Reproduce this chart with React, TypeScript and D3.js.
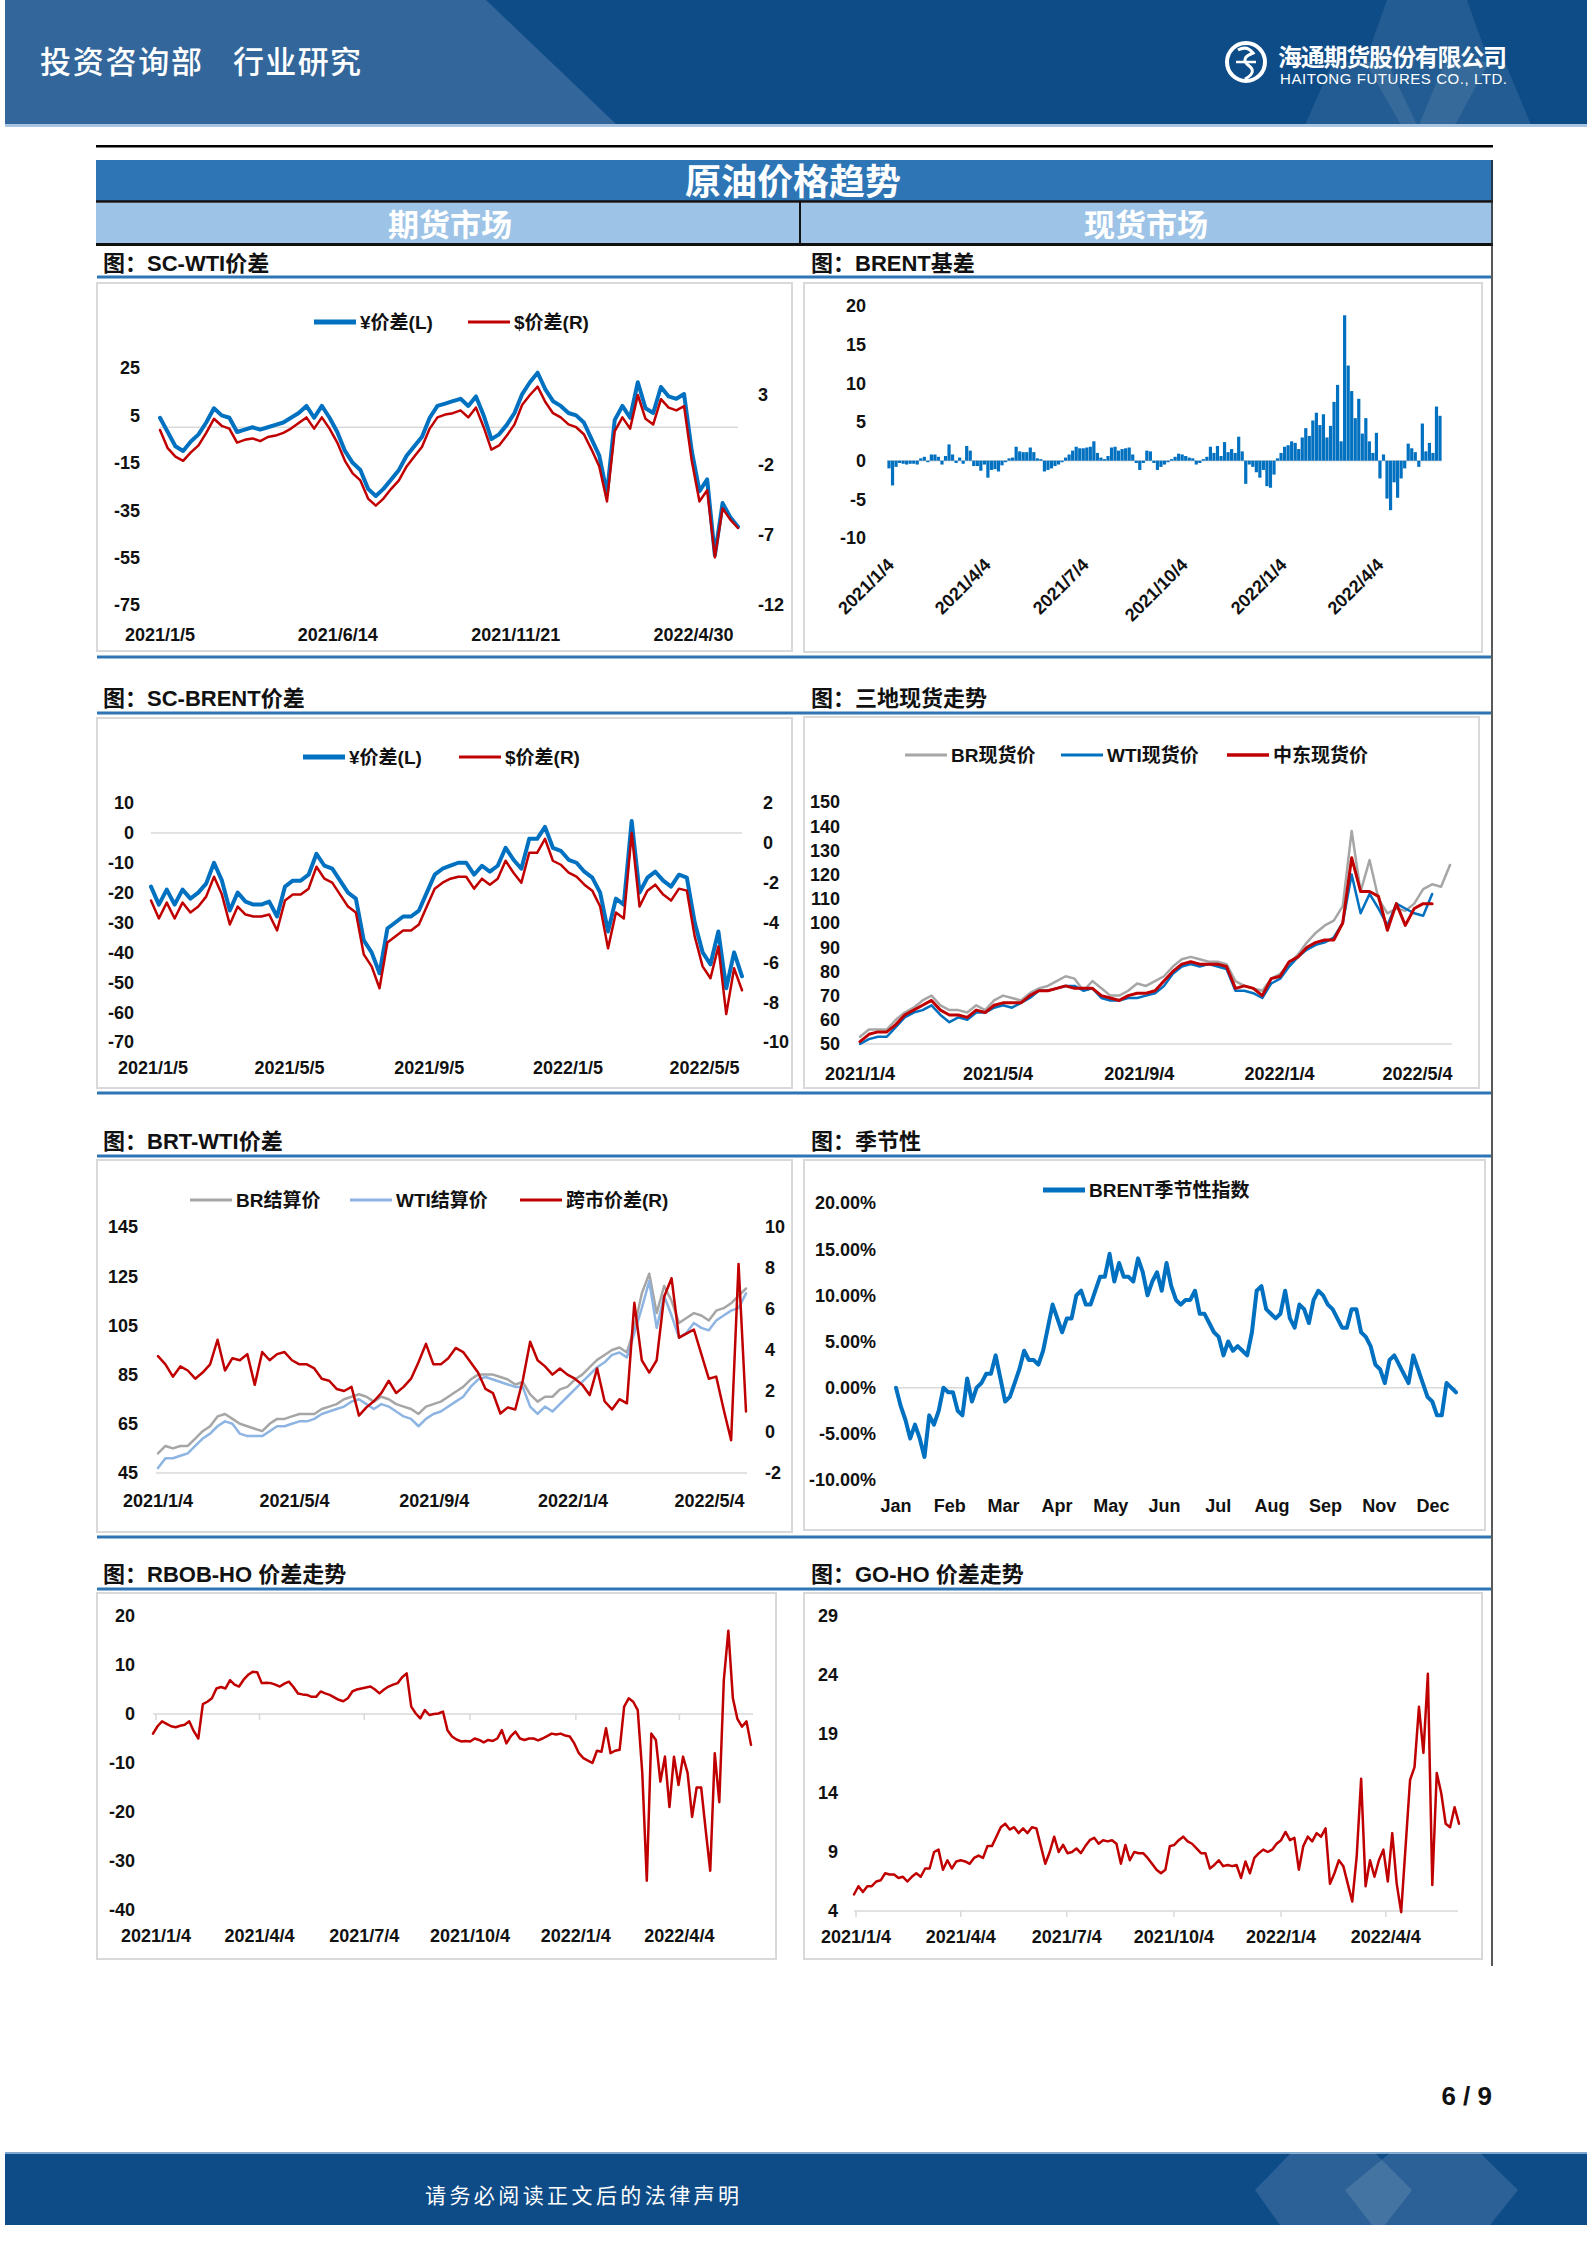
import React from 'react';
import * as d3 from 'd3';

// ---- SC-WTI价差 (weekly samples) ----
const SCWTI_DATES = ['2021/1/5', '2021/6/14', '2021/11/21', '2022/4/30'];
const SCWTI_LTICKS = [25, 5, -15, -35, -55, -75];
const SCWTI_RTICKS = [3, -2, -7, -12];
const SCWTI_CNY = [4, -2, -8, -10, -6, -3, 2, 8, 5, 4, -2, -1, 0, -1, 0, 1, 2, 4, 6, 9, 4, 9, 4, -2, -10, -15, -18, -26, -29, -26, -22, -18, -12, -8, -4, 4, 9, 10, 11, 12, 9, 13, 5, -5, -3, 1, 6, 14, 19, 23, 16, 11, 9, 6, 5, 2, -5, -12, -28, 3, 9, 4, 19, 8, 6, 17, 13, 12, 14, -10, -27, -22, -54, -32, -38, -42];
const SCWTI_USD = [0.5, -0.8, -1.4, -1.7, -1.1, -0.6, 0.3, 1.3, 0.8, 0.6, -0.4, -0.2, -0.1, -0.3, 0.0, 0.1, 0.3, 0.6, 1.0, 1.4, 0.6, 1.4, 0.6, -0.4, -1.7, -2.6, -3.1, -4.4, -4.9, -4.4, -3.7, -3.1, -2.1, -1.4, -0.7, 0.6, 1.4, 1.6, 1.7, 1.9, 1.4, 2.1, 0.7, -0.9, -0.6, 0.1, 0.9, 2.3, 3.0, 3.6, 2.5, 1.7, 1.4, 0.9, 0.7, 0.2, -0.9, -2.1, -4.6, 0.4, 1.4, 0.6, 3.0, 1.3, 0.9, 2.7, 2.1, 1.9, 2.2, -1.7, -4.6, -3.8, -8.6, -5.1, -5.9, -6.5];

// ---- BRENT基差 ----
const BRENT_DATES = ['2021/1/4', '2021/4/4', '2021/7/4', '2021/10/4', '2022/1/4', '2022/4/4'];
const BRENT_TICKS = [20, 15, 10, 5, 0, -5, -10];
const BRENT_BASIS = [-1.0, -3.2, -0.8, -0.3, -0.4, -0.5, -0.4, -0.4, -0.5, 0.3,
  0.5, -0.2, 0.8, 0.8, 0.5, -0.5, 0.6, 2.1, 0.8, -0.3,
  0.4, -0.4, 1.9, 1.3, -0.7, -0.7, -1.3, -0.5, -2.2, -1.2,
  -1.1, -1.4, -0.6, -0.2, 0.3, 0.4, 1.8, 1.2, 1.1, 1.1,
  1.7, 1.1, 0.3, 0.2, -1.4, -1.2, -1.0, -0.7, -0.5, -0.2,
  0.4, 0.8, 1.3, 1.8, 1.6, 1.6, 1.7, 1.8, 2.5, 1.0,
  0.4, 0.2, 0.6, 1.7, 1.8, 1.3, 1.5, 1.6, 1.7, 0.8,
  -0.3, -1.2, -0.3, 1.3, 1.2, -0.3, -1.2, -0.8, -0.5, -0.2,
  0.2, 0.5, 0.9, 0.8, 0.6, 0.4, 0.3, -0.5, -0.3, 0.2,
  0.5, 1.8, 1.0, 1.9, 0.6, 2.4, 1.1, 1.5, 1.0, 3.1,
  1.2, -3.0, -0.5, -0.8, -1.5, -2.2, -1.2, -3.3, -3.5, -1.8,
  0.3, 1.0, 1.8, 2.0, 2.5, 2.3, 1.5, 3.0, 4.2, 3.2,
  5.2, 6.2, 4.6, 6.0, 3.0, 4.5, 7.6, 9.8, 2.5, 18.8,
  12.3, 9.0, 5.5, 8.0, 3.5, 5.5, 2.5, 1.0, 3.6, -2.3,
  0.8, -4.9, -6.4, -2.8, -4.8, -2.3, -1.0, 2.2, 1.6, 1.1,
  -0.8, 4.8, 1.2, 2.3, 1.0, 7.0, 5.8];

// ---- SC-BRENT价差 ----
const SCBRENT_DATES = ['2021/1/5', '2021/5/5', '2021/9/5', '2022/1/5', '2022/5/5'];
const SCBRENT_LTICKS = [10, 0, -10, -20, -30, -40, -50, -60, -70];
const SCBRENT_RTICKS = [2, 0, -2, -4, -6, -8, -10];
const SCBRENT_CNY = [-18, -24, -19, -24, -19, -22, -20, -17, -10, -16, -26, -20, -23, -24, -24, -23, -28, -18, -16, -16, -14, -7, -11, -12, -16, -20, -22, -36, -40, -47, -32, -30, -28, -28, -26, -20, -14, -12, -11, -10, -10, -14, -11, -13, -11, -5, -9, -12, -2, -2, 2, -5, -6, -9, -10, -13, -15, -20, -33, -22, -24, 4, -20, -15, -13, -16, -18, -14, -15, -30, -40, -44, -33, -52, -40, -48];
const SCBRENT_USD = [-2.9, -3.8, -3.0, -3.8, -3.0, -3.5, -3.2, -2.7, -1.7, -2.6, -4.1, -3.2, -3.6, -3.7, -3.7, -3.6, -4.4, -2.9, -2.6, -2.6, -2.3, -1.2, -1.8, -2.0, -2.6, -3.2, -3.5, -5.6, -6.2, -7.3, -5.0, -4.7, -4.4, -4.4, -4.1, -3.2, -2.3, -2.0, -1.8, -1.7, -1.7, -2.3, -1.8, -2.1, -1.8, -0.9, -1.5, -2.0, -0.5, -0.5, 0.2, -0.9, -1.1, -1.5, -1.7, -2.1, -2.4, -3.2, -5.3, -3.5, -3.8, 0.5, -3.2, -2.4, -2.1, -2.6, -2.9, -2.3, -2.4, -4.7, -6.2, -6.8, -5.2, -8.6, -6.3, -7.4];

// ---- 三地现货走势 ----
const SPOT_DATES = ['2021/1/4', '2021/5/4', '2021/9/4', '2022/1/4', '2022/5/4'];
const SPOT_TICKS = [150, 140, 130, 120, 110, 100, 90, 80, 70, 60, 50];
const SPOT_BR = [53, 56, 56, 56, 60, 63, 65, 68, 70, 66, 64, 64, 63, 66, 64, 68, 70, 69, 68, 71, 73, 74, 76, 78, 77, 72, 76, 73, 70, 70, 72, 75, 74, 76, 78, 82, 85, 86, 85, 84, 84, 83, 76, 74, 73, 72, 77, 79, 83, 87, 92, 96, 99, 101, 107, 138, 113, 126, 110, 104, 106, 105, 108, 114, 116, 115, 124];
const SPOT_WTI = [50, 52, 53, 53, 57, 61, 63, 64, 66, 62, 59, 61, 60, 63, 63, 65, 66, 65, 67, 69, 72, 72, 73, 74, 74, 72, 73, 69, 68, 68, 69, 69, 70, 71, 74, 79, 82, 83, 82, 83, 82, 81, 72, 72, 71, 69, 75, 77, 82, 86, 89, 91, 92, 94, 100, 120, 104, 112, 106, 99, 108, 106, 104, 103, 112];
const SPOT_ME = [51, 54, 55, 55, 58, 62, 64, 66, 68, 64, 62, 62, 61, 64, 63, 66, 67, 67, 67, 70, 72, 72, 73, 74, 73, 73, 73, 70, 69, 68, 70, 71, 71, 72, 76, 80, 83, 84, 83, 83, 83, 82, 73, 74, 73, 70, 77, 78, 84, 86, 90, 92, 93, 93, 100, 127, 113, 113, 111, 97, 108, 99, 106, 108, 108];

// ---- BRT-WTI价差 ----
const BW_DATES = ['2021/1/4', '2021/5/4', '2021/9/4', '2022/1/4', '2022/5/4'];
const BW_LTICKS = [145, 125, 105, 85, 65, 45];
const BW_RTICKS = [10, 8, 6, 4, 2, 0, -2];
const SETTLE_BR = [53, 56, 55, 56, 56, 59, 62, 64, 68, 69, 67, 65, 64, 63, 62, 65, 67, 67, 68, 69, 69, 69, 71, 72, 73, 75, 76, 77, 76, 74, 76, 75, 73, 72, 71, 69, 72, 73, 74, 76, 78, 80, 83, 85, 85, 85, 84, 83, 81, 82, 77, 74, 76, 76, 79, 80, 83, 85, 88, 91, 93, 95, 96, 94, 104, 118, 126, 110, 121, 115, 106, 108, 110, 109, 107, 111, 112, 114, 117, 120];
const SETTLE_WTI = [47, 51, 51, 52, 53, 56, 59, 61, 64, 66, 65, 61, 60, 60, 60, 62, 64, 64, 65, 66, 66, 67, 69, 70, 71, 72, 74, 75, 73, 71, 73, 72, 70, 68, 67, 64, 67, 69, 70, 72, 74, 76, 80, 83, 84, 83, 82, 81, 80, 80, 72, 69, 72, 70, 73, 76, 79, 82, 85, 88, 90, 93, 94, 92, 102, 112, 123, 104, 117, 109, 100, 102, 106, 104, 103, 107, 109, 111, 112, 118];
const BW_SPREAD = [3.7, 3.3, 2.7, 3.2, 3.0, 2.6, 2.9, 3.3, 4.5, 3.0, 3.6, 3.5, 3.8, 2.3, 3.9, 3.5, 3.8, 3.9, 3.5, 3.3, 3.3, 3.1, 2.6, 2.5, 2.1, 2.0, 2.2, 0.8, 1.2, 1.5, 1.9, 2.5, 1.9, 2.2, 2.6, 3.4, 4.3, 3.3, 3.3, 3.6, 4.1, 3.9, 3.4, 2.9, 2.1, 1.9, 0.9, 1.2, 1.1, 2.5, 4.4, 3.5, 3.2, 2.8, 3.1, 2.8, 2.6, 2.3, 1.8, 3.1, 1.5, 1.1, 1.6, 1.4, 6.3, 3.5, 2.9, 3.5, 6.6, 7.5, 4.6, 4.8, 5.0, 3.8, 2.6, 2.7, 1.1, -0.4, 8.2, 1.0];

// ---- 季节性 ----
const MONTHS = ['Jan', 'Feb', 'Mar', 'Apr', 'May', 'Jun', 'Jul', 'Aug', 'Sep', 'Nov', 'Dec'];
const SEASON_TICKS = [20, 15, 10, 5, 0, -5, -10];
const SEASON_IDX = [0, -2, -3.5, -5.5, -4, -5.5, -7.5, -3, -4, -2.5, 0, -0.5, -0.5, -2.5, -3, 1, -1.5, 0, 0.5, 1.5, 1.5, 3.5, 1, -1.5, -1, 0.5, 2, 4, 3, 3, 2.5, 4, 6.5, 9, 7.5, 6, 7.5, 7.5, 10, 10.5, 9, 9, 10.5, 12, 12, 14.5, 11.5, 13.5, 12, 12, 11.5, 14, 12.5, 10, 11.5, 12.5, 10.5, 13.5, 11, 9.5, 9, 9.5, 9.5, 10.5, 8, 8, 7, 6, 5.5, 3.5, 5, 4, 4.5, 4, 3.5, 6, 10.5, 11, 8.5, 8, 7.5, 8, 10.5, 7.5, 6.5, 9, 8.5, 7, 9.5, 10.5, 10, 9, 8.5, 7.5, 6.5, 6.5, 8.5, 8.5, 6, 5.5, 4.5, 2.5, 2, 0.5, 3, 3.5, 2.5, 1.5, 0.5, 3.5, 2, 0.5, -1, -1.5, -3, -3, 0.5, 0, -0.5];

// ---- RBOB-HO / GO-HO ----
const CRACK_DATES = ['2021/1/4', '2021/4/4', '2021/7/4', '2021/10/4', '2022/1/4', '2022/4/4'];
const RBOB_TICKS = [20, 10, 0, -10, -20, -30, -40];
const RBOB_HO = [-4, -2.5, -1.5, -2, -2.5, -2.7, -2.4, -2.2, -1.5, -3.5,
  -5, 2, 2.5, 3.2, 5.2, 5.5, 5.2, 6.9, 6, 5.6,
  7, 8, 8.6, 8.5, 6.3, 6.4, 6.3, 6, 5.6, 6.2,
  6.6, 5.5, 4.2, 4, 3.9, 3.5, 3.5, 4.6, 4.2, 3.9,
  3.4, 2.9, 2.6, 3.2, 4.6, 5, 5.2, 5.4, 5.6, 5,
  4.2, 5, 5.6, 6, 6.3, 7.5, 8.3, 1.5, 0.1, -0.9,
  0.8, -0.2, 0, 0.1, 0.5, -3.3, -4.6, -5.2, -5.6, -5.5,
  -5.6, -5, -5.3, -5.8, -5.3, -5.5, -5, -3.3, -6, -4.5,
  -3.6, -5, -5.3, -5, -5, -5.4, -5, -4.5, -4, -4.2,
  -4, -4.4, -4.6, -6, -8, -9, -9.5, -10, -7.5, -7.7,
  -2.9, -8, -7.5, -7.3, 1.5, 3.2, 2.5, 0.8, -12, -34,
  -4, -5.3, -13.8, -8.7, -19, -8.7, -14.5, -8.7, -12, -21,
  -15, -15, -23.7, -32, -8, -18, 6.9, 17, 3.2, -1,
  -2.6, -1.5, -6.3];
const GOHO_TICKS = [29, 24, 19, 14, 9, 4];
const GO_HO = [5.4, 6.1, 5.6, 6.1, 6.1, 6.5, 6.6, 7.2, 7.1, 7.1,
  6.8, 6.9, 6.5, 6.9, 7.2, 6.9, 7.6, 7.6, 9, 9.2,
  7.5, 8.3, 7.6, 8.2, 8.3, 8.2, 8, 8.5, 8.7, 8.5,
  9.5, 9.5, 10.3, 11.1, 11.4, 10.9, 11.1, 10.6, 11, 10.6,
  11.1, 11, 9.5, 8, 9, 10.3, 9, 9.6, 8.9, 9,
  9.3, 8.9, 9.5, 10, 10.2, 9.7, 10, 9.9, 10, 9.7,
  8, 9.6, 8.3, 9, 8.9, 8.9, 8.5, 8, 7.5, 7.2,
  7.5, 9.5, 9.6, 10, 10.3, 9.9, 9.7, 9.3, 8.9, 8.9,
  7.6, 7.9, 8.3, 7.8, 7.9, 7.8, 7.9, 6.8, 8.2, 7.2,
  8.5, 8.9, 9.2, 9, 9.2, 9.7, 10, 10.7, 10, 10.2,
  7.5, 9.5, 10.3, 9.9, 10.6, 10.3, 11, 6.3, 7.2, 8.3,
  7.8, 6.3, 4.8, 8.6, 15.2, 6.1, 8.3, 6.9, 8.3, 9.2,
  6.5, 10.6, 6.3, 3.9, 9.5, 15.1, 16.2, 21.3, 17.4, 24.1,
  6.2, 15.7, 14, 11.4, 11.1, 12.8, 11.4];

const C = {
  blue: '#0070c0',
  red: '#c00000',
  gray: '#a6a6a6',
  lblue: '#8db4e2',
  border: '#d9d9d9',
  rule: '#2e75b6',
  axis: '#d9d9d9',
  text: '#111111',
};
const NUM = "'Liberation Sans', Arial, sans-serif";
const CJK = "'Noto Sans CJK SC', 'Liberation Sans', sans-serif";
const MIX = "'Liberation Sans', 'Noto Sans CJK SC', sans-serif";
const parse = d3.timeParse('%Y/%m/%d');
const day = (s: string) => parse(s) as Date;

type Lin = d3.ScaleLinear<number, number>;
const linePath = (vals: number[], x: Lin, y: Lin) =>
  d3.line<number>().x((_, i) => x(i)).y(d => y(d))(vals) || '';

const YLabels = ({ scale, ticks, x, anchor, fmt = (v: number) => String(v) }:
  { scale: Lin; ticks: number[]; x: number; anchor: 'start' | 'end'; fmt?: (v: number) => string }) => (
  <g fontFamily={NUM} fontSize={18} fontWeight="bold" fill={C.text} textAnchor={anchor}>
    {ticks.map(t => <text key={t} x={x} y={scale(t)} dy="0.36em">{fmt(t)}</text>)}
  </g>
);

const DateLabels = ({ scale, dates, y }: { scale: d3.ScaleTime<number, number>; dates: string[]; y: number }) => (
  <g fontFamily={NUM} fontSize={18} fontWeight="bold" fill={C.text} textAnchor="middle">
    {dates.map(d => <text key={d} x={scale(day(d))} y={y}>{d}</text>)}
  </g>
);

interface LegendItem { x: number; color: string; w: number; label: string }
const Legend = ({ items, y }: { items: LegendItem[]; y: number }) => (
  <g fontFamily={MIX} fontSize={19} fontWeight="bold" fill={C.text}>
    {items.map(it => (
      <g key={it.label}>
        <line x1={it.x} x2={it.x + 42} y1={y} y2={y} stroke={it.color} strokeWidth={it.w} />
        <text x={it.x + 46} y={y} dy="0.36em">{it.label}</text>
      </g>
    ))}
  </g>
);

const Line = ({ d, color, w }: { d: string; color: string; w: number }) => (
  <path d={d} fill="none" stroke={color} strokeWidth={w} strokeLinejoin="round" strokeLinecap="round" />
);

function ScWti() {
  const x = d3.scaleLinear().domain([0, SCWTI_CNY.length - 1]).range([160, 738]);
  const t = d3.scaleTime().domain([day('2021/1/5'), day('2022/6/9')]).range([160, 738]);
  const yl = d3.scaleLinear().domain([-75, 25]).range([605, 368]);
  const yr = d3.scaleLinear().domain([-12, 3]).range([605, 395]);
  return (
    <g>
      <line x1={160} x2={738} y1={yl(0)} y2={yl(0)} stroke={C.axis} strokeWidth={1.5} />
      <Line d={linePath(SCWTI_CNY, x, yl)} color={C.blue} w={4} />
      <Line d={linePath(SCWTI_USD, x, yr)} color={C.red} w={2.5} />
      <YLabels scale={yl} ticks={SCWTI_LTICKS} x={140} anchor="end" />
      <YLabels scale={yr} ticks={SCWTI_RTICKS} x={758} anchor="start" />
      <DateLabels scale={t} dates={SCWTI_DATES} y={641} />
      <Legend y={322} items={[
        { x: 314, color: C.blue, w: 5, label: '¥价差(L)' },
        { x: 468, color: C.red, w: 3, label: '$价差(R)' },
      ]} />
    </g>
  );
}

function BrentBasis() {
  const x = d3.scaleLinear().domain([0, BRENT_BASIS.length - 1]).range([889, 1440]);
  const t = d3.scaleTime().domain([day('2021/1/4'), day('2022/6/1')]).range([889, 1441]);
  const y = d3.scaleLinear().domain([-10, 20]).range([538, 306]);
  const y0 = y(0);
  return (
    <g>
      <line x1={887} x2={1442} y1={y0} y2={y0} stroke={C.axis} strokeWidth={1.5} />
      {BRENT_BASIS.map((v, i) => (
        <rect key={i} x={x(i) - 1.6} width={3.2} y={Math.min(y(v), y0)} height={Math.abs(y(v) - y0)} fill={C.blue} />
      ))}
      <YLabels scale={y} ticks={BRENT_TICKS} x={866} anchor="end" />
      <g fontFamily={NUM} fontSize={18} fontWeight="bold" fill={C.text} textAnchor="end">
        {BRENT_DATES.map(d => (
          <text key={d} transform={`translate(${t(day(d)) + 6},${566}) rotate(-45)`}>{d}</text>
        ))}
      </g>
    </g>
  );
}

function ScBrent() {
  const x = d3.scaleLinear().domain([0, SCBRENT_CNY.length - 1]).range([151, 742]);
  const t = d3.scaleTime().domain([day('2021/1/5'), day('2022/6/7')]).range([153, 742]);
  const yl = d3.scaleLinear().domain([-70, 10]).range([1042, 803]);
  const yr = d3.scaleLinear().domain([-10, 2]).range([1042, 803]);
  return (
    <g>
      <line x1={151} x2={742} y1={yl(0)} y2={yl(0)} stroke={C.axis} strokeWidth={1.5} />
      <Line d={linePath(SCBRENT_CNY, x, yl)} color={C.blue} w={4} />
      <Line d={linePath(SCBRENT_USD, x, yr)} color={C.red} w={2.5} />
      <YLabels scale={yl} ticks={SCBRENT_LTICKS} x={134} anchor="end" />
      <YLabels scale={yr} ticks={SCBRENT_RTICKS} x={763} anchor="start" />
      <DateLabels scale={t} dates={SCBRENT_DATES} y={1074} />
      <Legend y={757} items={[
        { x: 303, color: C.blue, w: 5, label: '¥价差(L)' },
        { x: 459, color: C.red, w: 3, label: '$价差(R)' },
      ]} />
    </g>
  );
}

function Spot() {
  const x = d3.scaleLinear().domain([0, SPOT_BR.length - 1]).range([860, 1450]);
  const t = d3.scaleTime().domain([day('2021/1/4'), day('2022/6/3')]).range([860, 1452]);
  const y = d3.scaleLinear().domain([50, 150]).range([1044, 802]);
  return (
    <g>
      <line x1={860} x2={1452} y1={y(50)} y2={y(50)} stroke={C.axis} strokeWidth={1.5} />
      <Line d={linePath(SPOT_BR, x, y)} color={C.gray} w={2.5} />
      <Line d={linePath(SPOT_WTI, x, y)} color={C.blue} w={2.5} />
      <Line d={linePath(SPOT_ME, x, y)} color={C.red} w={3} />
      <YLabels scale={y} ticks={SPOT_TICKS} x={840} anchor="end" />
      <DateLabels scale={t} dates={SPOT_DATES} y={1080} />
      <Legend y={755} items={[
        { x: 905, color: C.gray, w: 3, label: 'BR现货价' },
        { x: 1061, color: C.blue, w: 3, label: 'WTI现货价' },
        { x: 1227, color: C.red, w: 3.5, label: '中东现货价' },
      ]} />
    </g>
  );
}

function BrtWti() {
  const x = d3.scaleLinear().domain([0, SETTLE_BR.length - 1]).range([158, 746]);
  const t = d3.scaleTime().domain([day('2021/1/4'), day('2022/6/6')]).range([158, 747]);
  const yl = d3.scaleLinear().domain([45, 145]).range([1473, 1227]);
  const yr = d3.scaleLinear().domain([-2, 10]).range([1473, 1227]);
  return (
    <g>
      <line x1={156} x2={747} y1={yl(45)} y2={yl(45)} stroke={C.axis} strokeWidth={1.5} />
      <Line d={linePath(SETTLE_BR, x, yl)} color={C.gray} w={2.5} />
      <Line d={linePath(SETTLE_WTI, x, yl)} color={C.lblue} w={2.5} />
      <Line d={linePath(BW_SPREAD, x, yr)} color={C.red} w={2.5} />
      <YLabels scale={yl} ticks={BW_LTICKS} x={138} anchor="end" />
      <YLabels scale={yr} ticks={BW_RTICKS} x={765} anchor="start" />
      <DateLabels scale={t} dates={BW_DATES} y={1507} />
      <Legend y={1200} items={[
        { x: 190, color: C.gray, w: 3, label: 'BR结算价' },
        { x: 350, color: C.lblue, w: 3, label: 'WTI结算价' },
        { x: 520, color: C.red, w: 3, label: '跨市价差(R)' },
      ]} />
    </g>
  );
}

function Seasonal() {
  const x = d3.scaleLinear().domain([0, SEASON_IDX.length - 1]).range([896, 1456]);
  const m = d3.scalePoint<string>().domain(MONTHS).range([896, 1433]);
  const y = d3.scaleLinear().domain([-10, 20]).range([1480, 1203]);
  return (
    <g>
      <line x1={896} x2={1456} y1={y(0)} y2={y(0)} stroke={C.axis} strokeWidth={1.5} />
      <Line d={linePath(SEASON_IDX, x, y)} color={C.blue} w={4} />
      <YLabels scale={y} ticks={SEASON_TICKS} x={876} anchor="end" fmt={v => `${v.toFixed(2)}%`} />
      <g fontFamily={NUM} fontSize={18} fontWeight="bold" fill={C.text} textAnchor="middle">
        {MONTHS.map(mm => <text key={mm} x={m(mm)} y={1512}>{mm}</text>)}
      </g>
      <Legend y={1190} items={[{ x: 1043, color: C.blue, w: 5, label: 'BRENT季节性指数' }]} />
    </g>
  );
}

function Crack({ vals, ticks, domain, yRange, xRange, tRange, end, labelX, labelY, base }:
  { vals: number[]; ticks: number[]; domain: [number, number]; yRange: [number, number]; xRange: [number, number];
    tRange: [number, number]; end: string; labelX: number; labelY: number; base: number }) {
  const x = d3.scaleLinear().domain([0, vals.length - 1]).range(xRange);
  const t = d3.scaleTime().domain([day('2021/1/4'), day(end)]).range(tRange);
  const y = d3.scaleLinear().domain(domain).range(yRange);
  const yb = y(base);
  return (
    <g>
      <line x1={xRange[0]} x2={tRange[1]} y1={yb} y2={yb} stroke={C.axis} strokeWidth={1.5} />
      {CRACK_DATES.map(d => (
        <line key={d} x1={t(day(d))} x2={t(day(d))} y1={yb} y2={yb + 6} stroke={C.axis} strokeWidth={1.5} />
      ))}
      <Line d={linePath(vals, x, y)} color={C.red} w={2.5} />
      <YLabels scale={y} ticks={ticks} x={labelX} anchor="end" />
      <DateLabels scale={t} dates={CRACK_DATES} y={labelY} />
    </g>
  );
}

function Header() {
  return (
    <g>
      <rect x={5} y={0} width={1582} height={125} fill="#0e4c88" />
      <polygon points="5,0 486,0 617,125 5,125" fill="#33679b" />
      <g fill="#ffffff" fillOpacity={0.09}>
        <polygon points="1387,0 1467,0 1489,62 1455,125 1401,125 1365,62" />
        <polygon points="1333,62 1387,62 1417,125 1305,125" />
        <polygon points="1445,62 1505,62 1531,125 1419,125" />
      </g>
      <rect x={5} y={124} width={1582} height={3} fill="#a9c4e0" />
      <g fill="#fff" fontFamily={CJK} fontSize={31} fontWeight={500}>
        <text x={40} y={73} textLength={162}>投资咨询部</text>
        <text x={233} y={73} textLength={128}>行业研究</text>
      </g>
      <circle cx={1246} cy={62} r={19} fill="none" stroke="#fff" strokeWidth={4} />
      <path d="M1238 50 q9 -5 15 3 q-13 5 -5 12 q10 7 -3 14" stroke="#fff" strokeWidth={3} fill="none" />
      <path d="M1236 62 h20" stroke="#fff" strokeWidth={2.5} />
      <text x={1278} y={66} fill="#fff" fontFamily={CJK} fontSize={24} fontWeight="bold" textLength={229}>海通期货股份有限公司</text>
      <text x={1280} y={84} fill="#fff" fontFamily={NUM} fontSize={15} textLength={227}>HAITONG FUTURES CO., LTD.</text>
    </g>
  );
}

function Footer() {
  return (
    <g>
      <text x={1492} y={2105} textAnchor="end" fontFamily={NUM} fontSize={26} fontWeight="bold" fill="#111">6 / 9</text>
      <rect x={5} y={2153} width={1582} height={72} fill="#0e4c88" />
      <rect x={5} y={2152} width={1582} height={2} fill="#7ea6cf" />
      <g fill="#ffffff" fillOpacity={0.12}>
        <polygon points="1291,2153 1375,2153 1412,2190 1385,2225 1280,2225 1255,2190" />
        <polygon points="1390,2153 1480,2153 1518,2190 1490,2225 1372,2225 1345,2190" />
      </g>
      <text x={425} y={2203} fill="#fff" fontFamily={CJK} fontSize={21} textLength={314}>请务必阅读正文后的法律声明</text>
    </g>
  );
}

const BOXES = [
  [97, 283, 695, 368], [804, 283, 678, 369],
  [97, 718, 695, 370], [804, 717, 675, 371],
  [97, 1160, 695, 372], [804, 1160, 681, 370],
  [97, 1593, 679, 366], [804, 1593, 678, 366],
];
const RULES = [277, 657, 713, 1093, 1156, 1537, 1589];
const TITLES: [number, number, string][] = [
  [103, 271, '图：SC-WTI价差'], [811, 271, '图：BRENT基差'],
  [103, 706, '图：SC-BRENT价差'], [811, 706, '图：三地现货走势'],
  [103, 1149, '图：BRT-WTI价差'], [811, 1149, '图：季节性'],
  [103, 1582, '图：RBOB-HO 价差走势'], [811, 1582, '图：GO-HO 价差走势'],
];

export default function App() {
  return (
    <div style={{ position: 'absolute', left: 0, top: 0, width: 1587, height: 2245, background: '#fff' }}>
      <svg width={1587} height={2245} viewBox="0 0 1587 2245" style={{ display: 'block' }}>
        <rect width={1587} height={2245} fill="#fff" />
        <Header />
        <rect x={96} y={145} width={1397} height={2.5} fill="#000" />

        {/* title bars */}
        <rect x={96} y={160} width={1397} height={41} fill="#2e75b6" />
        <rect x={96} y={203} width={1397} height={40} fill="#9dc3e6" />
        <line x1={96} x2={1493} y1={201.5} y2={201.5} stroke="#111" strokeWidth={2.5} />
        <line x1={96} x2={1493} y1={244.5} y2={244.5} stroke="#111" strokeWidth={3} />
        <line x1={800} x2={800} y1={201} y2={245} stroke="#111" strokeWidth={2} />
        <line x1={1492} x2={1492} y1={160} y2={1966} stroke="#222" strokeWidth={1.5} />
        <text x={793} y={195} textAnchor="middle" fill="#fff" fontFamily={CJK} fontSize={36} fontWeight="bold">原油价格趋势</text>
        <text x={450} y={236} textAnchor="middle" fill="#fff" fontFamily={CJK} fontSize={31} fontWeight="bold">期货市场</text>
        <text x={1146} y={236} textAnchor="middle" fill="#fff" fontFamily={CJK} fontSize={31} fontWeight="bold">现货市场</text>

        {BOXES.map(([x, y, w, h], i) => (
          <rect key={i} x={x} y={y} width={w} height={h} fill="none" stroke={C.border} strokeWidth={2} />
        ))}
        {RULES.map(y => (
          <line key={y} x1={97} x2={1491} y1={y} y2={y} stroke={C.rule} strokeWidth={3} />
        ))}
        <g fontFamily={MIX} fontSize={22} fontWeight="bold" fill="#111">
          {TITLES.map(([x, y, s]) => <text key={s} x={x} y={y}>{s}</text>)}
        </g>

        <ScWti />
        <BrentBasis />
        <ScBrent />
        <Spot />
        <BrtWti />
        <Seasonal />
        <Crack vals={RBOB_HO} ticks={RBOB_TICKS} domain={[-40, 20]} yRange={[1910, 1616]} xRange={[153, 751]}
          tRange={[156, 753]} end="2022/6/7" labelX={135} labelY={1942} base={0} />
        <Crack vals={GO_HO} ticks={GOHO_TICKS} domain={[4, 29]} yRange={[1911, 1616]} xRange={[854, 1459]}
          tRange={[856, 1458]} end="2022/6/5" labelX={838} labelY={1943} base={4} />

        <Footer />
      </svg>
    </div>
  );
}
